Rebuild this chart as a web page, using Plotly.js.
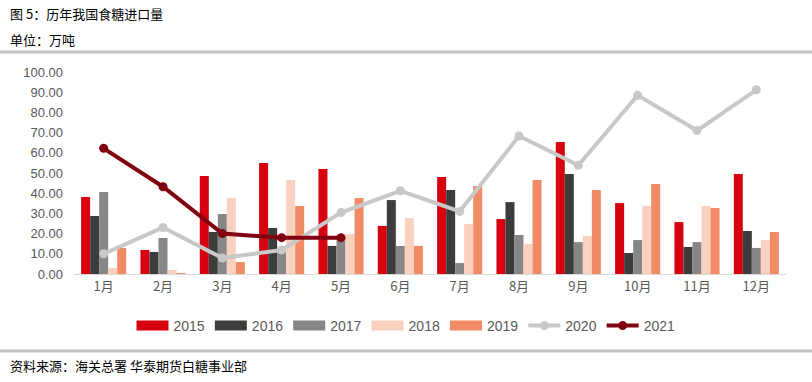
<!DOCTYPE html>
<html>
<head>
<meta charset="utf-8">
<script src="https://cdn.plot.ly/plotly-3.0.1.min.js"></script>
<style>html,body{margin:0;padding:0;background:#fff;}#chart{width:812px;height:382px;}</style>
</head>
<body>
<div id="chart"></div>
<script>
const months = ["1月","2月","3月","4月","5月","6月","7月","8月","9月","10月","11月","12月"];
const y2015 = [38.1, 11.9, 48.5, 55.0, 52.0, 23.8, 48.0, 27.2, 65.3, 35.1, 25.7, 49.5];
const y2016 = [28.7, 10.9, 20.8, 22.8, 13.9, 36.6, 41.6, 35.6, 49.5, 10.4, 13.4, 21.3];
const y2017 = [40.6, 17.8, 29.7, 12.5, 18.5, 13.9, 5.4, 19.3, 15.8, 16.8, 15.8, 12.9];
const y2018 = [3.0, 2.0, 37.6, 46.5, 19.8, 27.7, 24.8, 14.9, 18.8, 33.7, 33.7, 16.8];
const y2019 = [12.9, 0.5, 5.9, 33.7, 37.6, 13.9, 43.6, 46.5, 41.6, 44.6, 32.7, 20.8];
const y2020 = [10.0, 23.0, 7.9, 11.9, 30.4, 41.2, 31.0, 68.3, 53.8, 88.5, 71.0, 91.2];
const y2021 = [62.2, 43.2, 20.0, 18.0, 18.0];
const yTicks = [0,10,20,30,40,50,60,70,80,90,100];
const yTickText = yTicks.map(v => v.toFixed(2));

const barColors = {"2015":"#D7000F","2016":"#3C3C3C","2017":"#878787","2018":"#FAD1BE","2019":"#F08B66"};
function bar(name, vals){
  return {type:"bar", name:name, legendgroup:name, showlegend:false, x:months, y:vals,
    marker:{color:barColors[name]}, hoverinfo:"skip"};
}
// legend-only entries drawn as wide rectangles (thick line swatches)
function barKey(name){
  return {type:"scatter", mode:"lines", name:name, legendgroup:name, x:[months[0]], y:[null],
    line:{color:barColors[name], width:10}, hoverinfo:"skip"};
}
const names = ["2015","2016","2017","2018","2019"];
const vals = [y2015, y2016, y2017, y2018, y2019];
const traces = names.map((n,i) => bar(n, vals[i])).concat(names.map(barKey)).concat([
  {type:"scatter", mode:"lines+markers", name:"2020", x:months, y:y2020,
   line:{color:"#C8C8C8", width:4}, marker:{color:"#C8C8C8", size:9}},
  {type:"scatter", mode:"lines+markers", name:"2021", x:months.slice(0, y2021.length), y:y2021,
   line:{color:"#800010", width:4}, marker:{color:"#800010", size:9}}
]);

const W = 712, H = 202, L = 74, T = 72;
const px = x => (x - L) / W;
const py = y => (T + H - y) / H;
const cjk = '"Noto Sans CJK SC", sans-serif';

const layout = {
  width:812, height:382,
  margin:{l:L, r:812-L-W, t:T, b:382-T-H, pad:0},
  paper_bgcolor:"#fff", plot_bgcolor:"#fff",
  barmode:"group", bargap:0.24, bargroupgap:0,
  showlegend:true,
  legend:{orientation:"h", x:px(406), xanchor:"center", y:py(326), yanchor:"middle",
    font:{family:'"Liberation Sans Narrow", "Liberation Sans", sans-serif', size:14, color:"#595959"},
    itemwidth:32, tracegroupgap:0, traceorder:"normal"},
  xaxis:{type:"category", range:[-0.5, 11.5], showgrid:false, zeroline:false,
    showline:true, linecolor:"#D9D9D9", linewidth:1, ticks:"",
    tickfont:{family:cjk, size:13, color:"#595959"}, fixedrange:true},
  yaxis:{range:[0,100], tickvals:yTicks, ticktext:yTickText, showgrid:false, zeroline:false,
    showline:false, ticks:"", ticklabelstandoff:10,
    tickfont:{family:'"Liberation Sans", "DejaVu Sans", sans-serif', size:13, color:"#595959"}, fixedrange:true},
  shapes:[
    {type:"line", xref:"paper", yref:"paper", x0:px(0), x1:px(812), y0:py(52), y1:py(52), line:{color:"#C4C4C4", width:3}},
    {type:"line", xref:"paper", yref:"paper", x0:px(0), x1:px(812), y0:py(351), y1:py(351), line:{color:"#C4C4C4", width:3}}
  ],
  annotations:[
    {xref:"paper", yref:"paper", x:px(8), y:py(14), xanchor:"left", yanchor:"middle", showarrow:false,
     text:"图 5：历年我国食糖进口量", font:{family:cjk, size:13, color:"#000"}},
    {xref:"paper", yref:"paper", x:px(8), y:py(39), xanchor:"left", yanchor:"middle", showarrow:false,
     text:"单位：万吨", font:{family:cjk, size:13, color:"#000"}},
    {xref:"paper", yref:"paper", x:px(8), y:py(365), xanchor:"left", yanchor:"middle", showarrow:false,
     text:"资料来源：海关总署 华泰期货白糖事业部", font:{family:cjk, size:13, color:"#000"}}
  ]
};
Plotly.newPlot("chart", traces, layout, {displayModeBar:false, staticPlot:true});
</script>
</body>
</html>
